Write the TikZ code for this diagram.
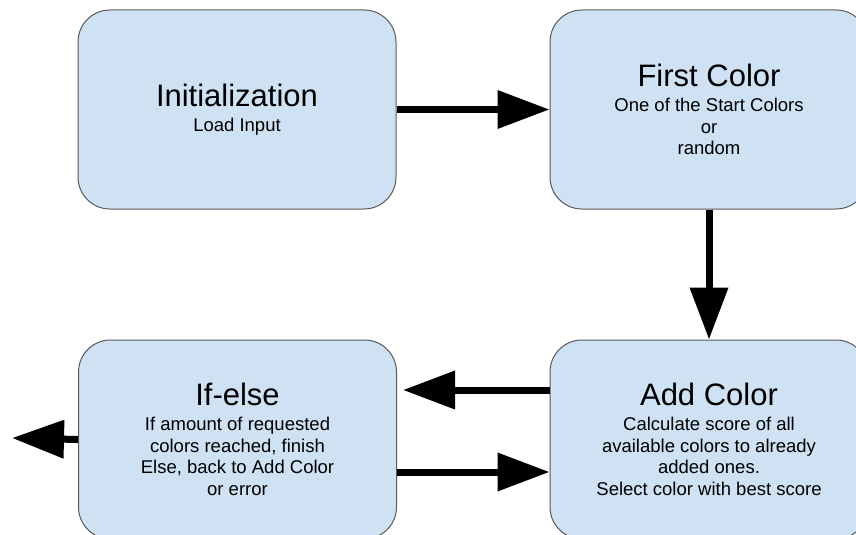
\documentclass[tikz,border=0pt]{standalone}
\usepackage{fontspec}
\setmainfont{Liberation Sans}
\usetikzlibrary{arrows.meta}
\definecolor{boxfill}{HTML}{CFE2F3}
\definecolor{boxline}{HTML}{595959}
\newcommand{\boxtitle}[1]{{\fontsize{31}{31}\selectfont #1}\\[3.5pt]}

\begin{document}
\begin{tikzpicture}[x=1pt,y=-1pt,
    stepbox/.style={draw=boxline,line width=1pt,fill=boxfill,rounded corners=32pt,
        minimum width=318pt,minimum height=199pt,inner sep=0pt,align=center,
        font=\fontsize{18.5}{21.5}\selectfont},
    flow/.style={line width=7pt,-{Triangle[length=52pt,width=37pt]}}]
    \useasboundingbox (0,0) rectangle (856,535);
    \clip (0,0) rectangle (856,535);
	\node[stepbox] (init) at (237,109.5) {\boxtitle{Initialization}Load Input};
	\node[stepbox] (first) at (709,109.5) {\boxtitle{First Color}One of the Start Colors\\or\\random};
	\node[stepbox] (ifelse) at (237.5,439.5) {\boxtitle{If-else}If amount of requested\\colors reached, finish\\Else, back to Add Color\\or error};
	\node[stepbox] (add) at (709,439.5) {\boxtitle{Add Color}Calculate score of all\\available colors to already\\added ones.\\Select color with best score};
	\coordinate (done) at (12,438);
	\draw[flow] (init.east) -- (first.west);
	\draw[flow] (first.south) -- (add.north);
	\draw[flow] ([yshift=49.5pt]add.west) -- ([xshift=6pt,yshift=49.5pt]ifelse.east);
	\draw[flow] ([yshift=-32.5pt]ifelse.east) -- ([yshift=-32.5pt]add.west);
	\draw[flow] (ifelse.west) -- (done);
\end{tikzpicture}
\end{document}
